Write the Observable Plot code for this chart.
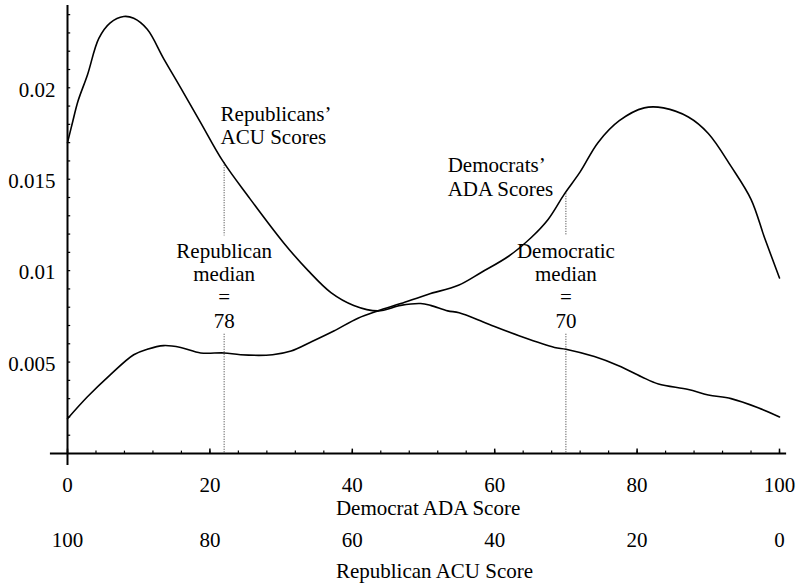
<!DOCTYPE html>
<html>
<head>
<meta charset="utf-8">
<script src="https://cdn.jsdelivr.net/npm/d3@7"></script>
<script src="https://cdn.jsdelivr.net/npm/@observablehq/plot@0.6"></script>
<style>
  html, body { margin: 0; padding: 0; background: white; }
  #chart svg { display: block; }
</style>
</head>
<body>
<div id="chart"></div>
<script>
// Republicans' ACU score density, positioned on the ADA axis (ADA position = 100 - ACU)
const repX = [0, 0.7, 1.5, 2.8, 4.4, 6.0, 7.9, 9.3, 11.2, 13.5, 15.9, 18.7, 21.8, 25.5, 30.4, 33.8, 37, 40.2, 43.6, 46.8, 49.6, 51, 53.4, 55, 59, 63.7, 68.4, 70, 74, 77.4, 80.6, 83, 87.2, 90, 93.2, 97, 100];
const repY = [0.0170, 0.0181, 0.0193, 0.0207, 0.0227, 0.02355, 0.0239, 0.0238, 0.0232, 0.0216, 0.0200, 0.0181, 0.0160, 0.0140, 0.0115, 0.0100, 0.0088, 0.0081, 0.0078, 0.0081, 0.0082, 0.0081, 0.0078, 0.0077, 0.0071, 0.0064, 0.0058, 0.0057, 0.0053, 0.0048, 0.0042, 0.0038, 0.0035, 0.0032, 0.0030, 0.0025, 0.0020];

// Democrats' ADA score density
const demX = [0, 2.8, 6, 9.3, 11.2, 13.5, 15.9, 18.7, 22, 24.3, 28.8, 31.4, 34.2, 37.4, 40.8, 43.6, 46.8, 50.6, 54.9, 58.1, 62, 65.1, 67.5, 69.8, 72, 74.5, 77.5, 81, 83.7, 87.2, 90, 93.2, 96, 97.9, 100];
const demY = [0.0019, 0.0031, 0.0043, 0.0054, 0.0057, 0.0059, 0.0058, 0.0055, 0.0055, 0.0054, 0.0054, 0.0056, 0.0061, 0.0067, 0.0074, 0.0078, 0.0082, 0.0087, 0.0092, 0.0099, 0.0108, 0.0118, 0.0128, 0.0142, 0.0154, 0.0170, 0.0182, 0.0189, 0.0189, 0.0184, 0.0175, 0.0157, 0.0139, 0.0118, 0.0096];

// medians
const repMedianACU = 78;
const demMedianADA = 70;
const repMedianDensity = 0.0159;
const demMedianDensity = 0.0142;

// axis ticks and labels
const adaTicks = [0, 20, 40, 60, 80, 100];
const acuTickLabels = ["100", "80", "60", "40", "20", "0"];
const yTicks = [0.005, 0.01, 0.015, 0.02];
const yTickLabels = ["0.005", "0.01", "0.015", "0.02"];
const yMinorTicks = d3.range(1, 25).map(i => i / 1000);
const xMinorTicks = d3.range(0, 101, 4);

const rep = repX.map((x, i) => ({x, y: repY[i]}));
const dem = demX.map((x, i) => ({x, y: demY[i]}));
const repMedX = 100 - repMedianACU;

const medians = [
  {x: repMedX, top: repMedianDensity, label: "Republican\nmedian\n=\n" + repMedianACU},
  {x: demMedianADA, top: demMedianDensity, label: "Democratic\nmedian\n=\n" + demMedianADA}
];

const chart = Plot.plot({
  width: 796,
  height: 585,
  marginLeft: 67,
  marginRight: 17,
  marginTop: 5,
  marginBottom: 132,
  x: {domain: [0, 100], axis: null},
  y: {domain: [0, 0.0245], axis: null},
  style: {fontFamily: "'Liberation Serif', 'Times New Roman', serif", fontSize: "21px", background: "white", color: "black"},
  marks: [
    // axes lines
    Plot.ruleY([0], {x1: -2.4, x2: 101, stroke: "black", strokeWidth: 2}),
    Plot.ruleX([0], {y1: -0.00066, y2: 0.0245, stroke: "black", strokeWidth: 2}),
    // minor ticks
    Plot.ruleY(yMinorTicks, {x1: 0, x2: 0.45, stroke: "black", strokeWidth: 1.2}),
    Plot.ruleX(xMinorTicks, {y1: 0, y2: 0.00013, stroke: "black", strokeWidth: 1.2}),
    Plot.ruleX(adaTicks, {y1: 0, y2: 0.00024, stroke: "black", strokeWidth: 1.5}),
    // y tick labels
    Plot.text(yTicks, {x: 0, y: d => d, text: (d, i) => yTickLabels[i], dx: -12, dy: 2, textAnchor: "end", fill: "black"}),
    // x tick labels (ADA) and reversed labels (ACU)
    Plot.text(adaTicks, {x: d => d, y: 0, text: d => String(d), dy: 32, fill: "black"}),
    Plot.text(adaTicks, {x: d => d, y: 0, text: (d, i) => acuTickLabels[i], dy: 87, fill: "black"}),
    // axis titles
    Plot.text(["Democrat ADA Score"], {x: 37.7, y: 0, dy: 55, textAnchor: "start", fill: "black"}),
    Plot.text(["Republican ACU Score"], {x: 37.7, y: 0, dy: 118, textAnchor: "start", fill: "black"}),
    // median dotted lines
    Plot.ruleX(medians, {x: "x", y1: "top", y2: 0.0119, stroke: "#333", strokeWidth: 1, strokeDasharray: "1,1.5"}),
    Plot.ruleX(medians, {x: "x", y1: 0.00652, y2: 0, stroke: "#333", strokeWidth: 1, strokeDasharray: "1,1.5"}),
    // density curves
    Plot.line(rep, {x: "x", y: "y", curve: "catmull-rom", stroke: "black", strokeWidth: 1.6}),
    Plot.line(dem, {x: "x", y: "y", curve: "catmull-rom", stroke: "black", strokeWidth: 1.6}),
    // curve labels
    Plot.text(["Republicans’\nACU Scores"], {x: 21.5, y: 0.01794, textAnchor: "start", lineHeight: 1.08, fill: "black"}),
    Plot.text(["Democrats’\nADA Scores"], {x: 53.4, y: 0.01514, textAnchor: "start", lineHeight: 1.1, fill: "black"}),
    // median labels
    Plot.text(medians, {x: "x", y: 0.0092, text: "label", lineHeight: 1.11, fill: "black"})
  ]
});
document.getElementById("chart").appendChild(chart);
</script>
</body>
</html>
